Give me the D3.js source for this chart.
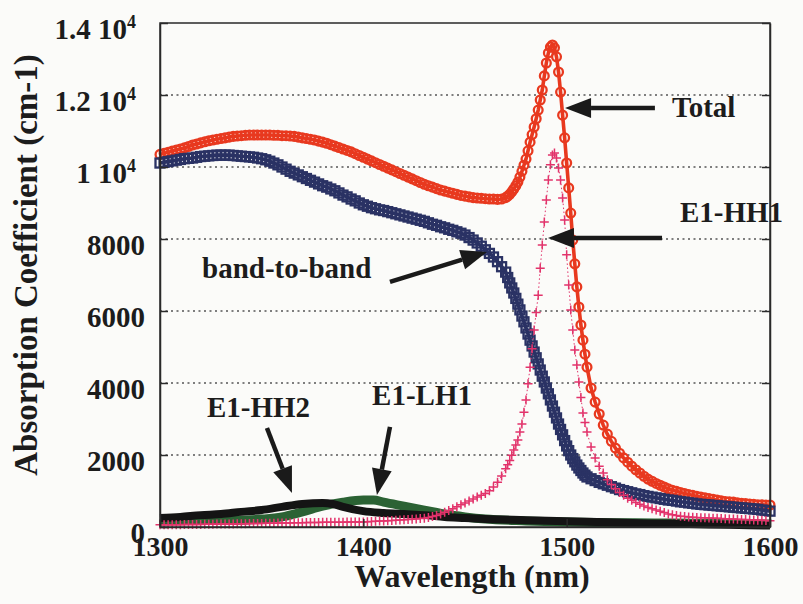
<!DOCTYPE html>
<html>
<head>
<meta charset="utf-8">
<script src="https://cdn.jsdelivr.net/npm/d3@7"></script>
<style>
  body { margin: 0; background: #fbfbf9; }
  text { font-family: "Liberation Serif", "Times New Roman", serif; font-weight: bold; fill: #1c1c1c; }
</style>
</head>
<body>
<svg id="chart" width="803" height="604"></svg>
<script>
// sampling grid (nm) of the three computed spectra: 2 nm, 1 nm around the resonance
var wavelength = [
  1300,1302,1304,1306,1308,1310,1312,1314,1316,1318,
  1320,1322,1324,1326,1328,1330,1332,1334,1336,1338,
  1340,1342,1344,1346,1348,1350,1352,1354,1356,1358,
  1360,1362,1364,1366,1368,1370,1372,1374,1376,1378,
  1380,1382,1384,1386,1388,1390,1392,1394,1396,1398,
  1400,1402,1404,1406,1408,1410,1412,1414,1416,1418,
  1420,1422,1424,1426,1428,1430,1432,1434,1436,1438,
  1440,1442,1444,1446,1448,1450,1452,1454,1456,1458,
  1460,1462,1464,1466,1468,
  1470,1471,1472,1473,1474,1475,1476,1477,1478,1479,
  1480,1481,1482,1483,1484,1485,1486,1487,1488,1489,
  1490,1491,1492,1493,1494,1495,1496,1497,1498,1499,
  1500,1501,1502,1503,1504,1505,1506,1507,1508,1509,
  1510,
  1512,1514,1516,1518,1520,1522,1524,1526,1528,1530,
  1532,1534,1536,1538,1540,1542,1544,1546,1548,1550,
  1552,1554,1556,1558,1560,1562,1564,1566,1568,1570,
  1572,1574,1576,1578,1580,1582,1584,1586,1588,1590,
  1592,1594,1596,1598,1600
];

var total = [
  10350,10380,10410,10440,10470,10500,10530,10570,10610,10640,
  10670,10700,10730,10750,10770,10790,10810,10830,10850,10860,
  10870,10880,10890,10890,10890,10890,10890,10890,10880,10880,
  10870,10870,10860,10850,10830,10810,10790,10770,10750,10720,
  10690,10660,10620,10580,10540,10500,10460,10420,10370,10320,
  10270,10220,10170,10120,10070,10020,9970,9920,9870,9820,
  9770,9720,9670,9620,9570,9520,9480,9440,9400,9360,
  9330,9300,9270,9240,9210,9190,9170,9150,9140,9130,
  9120,9110,9110,9100,9110,
  9150,9190,9240,9310,9390,9480,9580,9720,9880,10050,
  10220,10450,10690,10900,11110,11340,11580,11860,12140,12530,
  12890,13170,13330,13390,13310,13060,12640,12080,11440,10810,
  10110,9420,8720,7970,7310,6670,6110,5610,5190,4800,
  4440,
  3860,3470,3140,2830,2580,2380,2190,2050,1920,1800,
  1690,1590,1500,1410,1330,1270,1210,1160,1110,1060,
  1020,990,960,930,900,880,850,830,810,790,
  770,750,730,710,700,690,670,660,650,640,
  630,620,620,610,610
];

var bandToBand = [
  10110,10130,10150,10170,10190,10210,10230,10240,10250,10270,
  10290,10300,10310,10320,10330,10330,10330,10330,10320,10310,
  10300,10290,10280,10270,10250,10230,10200,10160,10110,10060,
  10000,9940,9880,9830,9780,9730,9680,9630,9580,9530,
  9480,9440,9390,9340,9280,9220,9170,9110,9060,9000,
  8950,8910,8870,8840,8810,8790,8760,8730,8700,8670,
  8640,8610,8580,8550,8520,8490,8450,8410,8380,8340,
  8310,8270,8240,8200,8160,8110,8040,7970,7890,7800,
  7700,7600,7500,7370,7230,
  7080,6930,6780,6640,6500,6350,6190,6030,5860,5700,
  5530,5360,5190,5030,4860,4700,4530,4360,4190,4030,
  3860,3700,3530,3360,3190,3030,2860,2710,2560,2400,
  2250,2120,2000,1900,1810,1720,1640,1570,1500,1440,
  1390,
  1340,1290,1240,1200,1160,1120,1080,1040,1010,980,
  950,920,900,870,850,830,810,790,770,750,
  740,720,700,690,670,660,640,630,620,610,
  600,590,580,570,560,550,540,530,520,510,
  500,490,470,460,440
];

var e1hh1 = [
  60,60,60,60,62,64,66,68,70,70,
  72,74,76,78,80,80,82,84,86,88,
  90,92,94,96,98,100,102,104,106,108,
  110,112,114,116,118,120,122,124,126,128,
  130,131,132,133,134,135,136,137,138,139,
  140,146,152,158,164,170,176,182,188,194,
  200,208,216,224,234,245,265,290,320,360,
  410,460,510,560,620,670,720,780,830,880,
  930,1010,1110,1240,1420,
  1620,1730,1850,1990,2140,2280,2420,2640,2860,3190,
  3530,3980,4440,4950,5470,5960,6440,7190,7830,8470,
  9080,9640,10060,10330,10390,10250,9970,9640,9140,8530,
  7560,6720,6030,5470,4920,4500,4030,3600,3170,2900,
  2640,
  2220,1920,1690,1500,1310,1180,1060,960,880,800,
  740,680,630,580,540,505,470,440,400,360,
  340,320,300,290,280,270,265,260,255,250,
  245,240,235,230,225,220,215,210,205,200,
  195,190,185,180,175
];

// [wavelength, absorption]
var e1hh2 = [
  [1300,250],[1310,280],[1320,330],[1330,360],[1340,420],[1350,470],
  [1360,560],[1370,640],[1380,670],[1385,640],[1390,560],[1400,440],
  [1410,390],[1420,360],[1430,330],[1440,280],[1450,250],[1460,220],
  [1480,190],[1500,160],[1520,130],[1540,100],[1560,80],[1580,60],[1600,40]
];

var e1lh1 = [
  [1300,170],[1320,180],[1340,190],[1350,220],[1360,280],[1370,420],
  [1380,580],[1390,690],[1400,750],[1405,750],[1410,690],[1420,580],
  [1430,470],[1440,360],[1450,280],[1460,220],[1480,170],[1500,140],
  [1550,110],[1600,80]
];

var xTicks = [1300, 1400, 1500, 1600];
var yTicks = [0, 2000, 4000, 6000, 8000, 10000, 12000, 14000];

// labels and arrows, in data units
var notes = [
  { text: "Total",        at: [1551.8, 11390], tail: [1543.4, 11640], tip: [1499.2, 11640] },
  { text: "E1-HH1",       at: [1555.7, 8470],  tail: [1546.9, 8030],  tip: [1490.8, 8030] },
  { text: "band-to-band", at: [1320.7, 6920],  tail: [1413.1, 6810],  tip: [1460.8, 7640] },
  { text: "E1-HH2",       at: [1323.1, 3060],  tail: [1352.6, 2750],  tip: [1364.9, 944] },
  { text: "E1-LH1",       at: [1404.3, 3390],  tail: [1413.1, 2780],  tip: [1406.7, 889] }
];

var plotLeft = 160, plotRight = 770, plotTop = 23, plotBottom = 527;

var svg = d3.select("#chart");
svg.append("rect").attr("width", 803).attr("height", 604).attr("fill", "#fbfbf9");

var x = d3.scaleLinear().domain([1300, 1600]).range([plotLeft, plotRight]);
var y = d3.scaleLinear().domain([0, 14000]).range([plotBottom, plotTop]);

// dotted grid
svg.append("g")
  .selectAll("line")
  .data(yTicks.filter(function (d) { return d > 0 && d < 14000; }))
  .enter().append("line")
  .attr("x1", plotLeft).attr("x2", plotRight)
  .attr("y1", function (d) { return y(d); })
  .attr("y2", function (d) { return y(d); })
  .attr("stroke", "#555")
  .attr("stroke-width", 1.3)
  .attr("stroke-dasharray", "2,3.5");

// series
var plot = svg.append("g");
var rows = wavelength.map(function (w, i) {
  return { w: w, total: total[i], btb: bandToBand[i], hh1: e1hh1[i] };
});

function thinLine(key) {
  return d3.line()
    .x(function (d) { return x(d.w); })
    .y(function (d) { return y(d[key]); });
}

var red = "#e8391f", navy = "#2a3264", pink = "#e2336b", green = "#2b6234", black = "#141414";

// Total: hollow circles
plot.append("path").datum(rows)
  .attr("d", thinLine("total"))
  .attr("fill", "none").attr("stroke", red).attr("stroke-width", 3.6);
plot.append("g").selectAll("circle")
  .data(rows).enter().append("circle")
  .attr("cx", function (d) { return x(d.w); })
  .attr("cy", function (d) { return y(d.total); })
  .attr("r", 4.4)
  .attr("fill", "none").attr("stroke", red).attr("stroke-width", 2.3);

// band-to-band: hollow squares
plot.append("path").datum(rows)
  .attr("d", thinLine("btb"))
  .attr("fill", "none").attr("stroke", navy).attr("stroke-width", 3.6);
plot.append("g").selectAll("rect")
  .data(rows).enter().append("rect")
  .attr("x", function (d) { return x(d.w) - 4.5; })
  .attr("y", function (d) { return y(d.btb) - 4.5; })
  .attr("width", 9).attr("height", 9)
  .attr("fill", "none").attr("stroke", navy).attr("stroke-width", 2.3);

// E1-LH1 and E1-HH2: thick lines
var pairLine = d3.line()
  .x(function (d) { return x(d[0]); })
  .y(function (d) { return y(d[1]); })
  .curve(d3.curveMonotoneX);

plot.append("path").datum(e1lh1)
  .attr("d", pairLine)
  .attr("fill", "none").attr("stroke", green).attr("stroke-width", 9);
plot.append("path").datum(e1hh2)
  .attr("d", pairLine)
  .attr("fill", "none").attr("stroke", black).attr("stroke-width", 8);

// E1-HH1: plus markers
plot.append("path").datum(rows)
  .attr("d", thinLine("hh1"))
  .attr("fill", "none").attr("stroke", pink).attr("stroke-width", 1)
  .attr("stroke-dasharray", "1.5,2.5");
plot.append("g").selectAll("path")
  .data(rows).enter().append("path")
  .attr("transform", function (d) { return "translate(" + x(d.w) + "," + y(d.hh1) + ")"; })
  .attr("d", "M-4.5,0H4.5M0,-4.5V4.5")
  .attr("stroke", pink).attr("stroke-width", 1.5);

// frame and axes
svg.append("rect")
  .attr("x", plotLeft).attr("y", plotTop)
  .attr("width", plotRight - plotLeft).attr("height", plotBottom - plotTop)
  .attr("fill", "none").attr("stroke", "#2a2a2a").attr("stroke-width", 1.5);

var yAxis = svg.append("g")
  .attr("transform", "translate(" + plotLeft + ",0)")
  .call(d3.axisLeft(y).tickValues(yTicks).tickSizeInner(-8).tickSizeOuter(0)
    .tickPadding(15).tickFormat(d3.format("d")));
yAxis.selectAll(".tick text")
  .attr("font-size", 29)
  .attr("dy", "0.55em")
  .each(function (d) {
    if (d < 10000) return;
    var t = d3.select(this).text(null).attr("dx", -9);
    t.append("tspan").text(d / 10000 + " 10");
    t.append("tspan").attr("dy", "-0.62em").attr("font-size", "0.62em").text("4");
  });

svg.append("g")
  .attr("transform", "translate(" + plotRight + ",0)")
  .call(d3.axisRight(y).tickValues(yTicks).tickSizeInner(-8).tickSizeOuter(0).tickFormat(""));

svg.append("g")
  .attr("transform", "translate(0," + plotBottom + ")")
  .call(d3.axisBottom(x).tickValues(xTicks).tickSizeInner(-8).tickSizeOuter(0)
    .tickPadding(9).tickFormat(d3.format("d")))
  .selectAll(".tick text").attr("font-size", 28);

svg.selectAll(".domain").attr("stroke", "#2a2a2a").attr("stroke-width", 1.5);
svg.selectAll(".tick line").attr("stroke", "#2a2a2a").attr("stroke-width", 1.5);
svg.selectAll(".tick text").attr("fill", "#1c1c1c")
  .attr("font-family", "'Liberation Serif', 'Times New Roman', serif").attr("font-weight", "bold");

// axis titles
svg.append("text")
  .attr("x", 472).attr("y", 587)
  .attr("text-anchor", "middle").attr("font-size", 32)
  .text("Wavelength (nm)");

svg.append("text")
  .attr("transform", "translate(37,265) rotate(-90)")
  .attr("text-anchor", "middle").attr("font-size", 33)
  .text("Absorption Coefficient (cm-1)");

// annotations
var ann = svg.append("g");
notes.forEach(function (n) {
  ann.append("text")
    .attr("x", x(n.at[0])).attr("y", y(n.at[1]))
    .attr("font-size", 29)
    .text(n.text);

  var x0 = x(n.tail[0]), y0 = y(n.tail[1]);
  var x1 = x(n.tip[0]), y1 = y(n.tip[1]);
  var a = Math.atan2(y1 - y0, x1 - x0);
  var len = 26, half = 10;
  var bx = x1 - len * Math.cos(a), by = y1 - len * Math.sin(a);
  ann.append("line")
    .attr("x1", x0).attr("y1", y0).attr("x2", bx).attr("y2", by)
    .attr("stroke", "#1a1a1a").attr("stroke-width", 4.5);
  ann.append("path")
    .attr("d", "M" + x1 + "," + y1 +
      "L" + (bx + half * Math.sin(a)) + "," + (by - half * Math.cos(a)) +
      "L" + (bx - half * Math.sin(a)) + "," + (by + half * Math.cos(a)) + "Z")
    .attr("fill", "#1a1a1a");
});
</script>
</body>
</html>
